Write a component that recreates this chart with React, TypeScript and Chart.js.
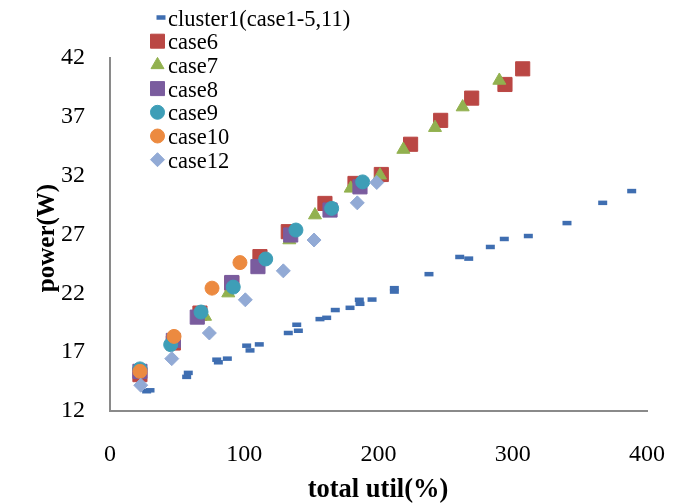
import React, { useEffect, useRef } from 'react';
import { Chart, registerables } from 'chart.js';

Chart.register(...registerables);

const xTicks = [0, 100, 200, 300, 400];
const yTicks = [12, 17, 22, 27, 32, 37, 42];
const xTitle = 'total util(%)';
const yTitle = 'power(W)';
const seriesNames = ['cluster1(case1-5,11)', 'case6', 'case7', 'case8', 'case9', 'case10', 'case12'];
const seriesColors = ['#3F6EB1', '#BA4744', '#92B14F', '#7A5C9E', '#3E9EB7', '#EC8A40', '#92AAD5'];
const seriesStyles = ['line', 'rect', 'triangle', 'rect', 'circle', 'circle', 'rectRot'];

const cluster1X = [27.3, 29.8, 57.1, 58.3, 79.5, 80.7, 87.4, 101.8, 104.3, 111.2, 132.8, 140.3, 139.1, 156.4, 161.4, 167.8, 178.8, 186.2, 185.7, 195.2, 211.8, 211.8, 237.6, 260.5, 267.2, 283.3, 293.7, 311.6, 340.4, 367.0, 388.6];
const cluster1Y = [13.68, 13.76, 14.9, 15.24, 16.36, 16.14, 16.45, 17.55, 17.15, 17.66, 18.63, 18.82, 19.33, 19.81, 19.92, 20.58, 20.77, 21.11, 21.45, 21.47, 22.44, 22.15, 23.63, 25.09, 24.95, 25.94, 26.62, 26.87, 27.97, 29.69, 30.69];

const case6X = [22.3, 47.2, 67.0, 90.7, 111.7, 132.8, 160.1, 182.5, 202.1, 223.9, 246.3, 269.4, 294.2, 307.4];
const case6Y = [15.09, 17.78, 20.32, 22.86, 25.12, 27.24, 29.64, 31.34, 32.1, 34.67, 36.7, 38.59, 39.75, 41.08];

const case7X = [70.8, 88.1, 133.6, 152.7, 179.3, 201.1, 218.5, 242.1, 262.7, 290.0];
const case7Y = [20.03, 22.02, 26.53, 28.65, 30.92, 32.04, 34.22, 36.08, 37.83, 40.09];

const case8X = [22.3, 47.2, 65.0, 90.7, 110.2, 134.6, 163.9, 186.2];
const case8Y = [15.37, 18.0, 19.98, 22.92, 24.27, 26.96, 29.08, 31.05];

const case9X = [22.3, 45.2, 67.8, 91.8, 116.0, 138.5, 165.1, 188.2];
const case9Y = [15.58, 17.64, 20.41, 22.53, 24.92, 27.38, 29.22, 31.47];

const case10X = [22.3, 47.7, 76.0, 96.8];
const case10Y = [15.37, 18.34, 22.44, 24.61];

const case12X = [22.9, 46.0, 74.0, 100.8, 129.1, 152.0, 184.2, 198.7];
const case12Y = [14.19, 16.45, 18.63, 21.45, 23.91, 26.53, 29.69, 31.42];

const allX = [cluster1X, case6X, case7X, case8X, case9X, case10X, case12X];
const allY = [cluster1Y, case6Y, case7Y, case8Y, case9Y, case10Y, case12Y];

const SERIF = '"Liberation Serif", "Times New Roman", serif';

function drawMarker(ctx: CanvasRenderingContext2D, style: string, x: number, y: number, color: string) {
  ctx.save();
  ctx.fillStyle = color;
  ctx.strokeStyle = color;
  ctx.lineWidth = 1;
  ctx.beginPath();
  if (style === 'line') {
    ctx.lineWidth = 4.5;
    ctx.moveTo(x - 4.5, y);
    ctx.lineTo(x + 4.5, y);
    ctx.stroke();
  } else if (style === 'rect') {
    ctx.rect(x - 7, y - 7, 14, 14);
    ctx.fill();
    ctx.stroke();
  } else if (style === 'triangle') {
    const r = 7.5;
    ctx.moveTo(x, y - r);
    ctx.lineTo(x + r * 0.866, y + r * 0.5);
    ctx.lineTo(x - r * 0.866, y + r * 0.5);
    ctx.closePath();
    ctx.fill();
    ctx.stroke();
  } else if (style === 'circle') {
    ctx.arc(x, y, 7, 0, Math.PI * 2);
    ctx.fill();
    ctx.stroke();
  } else if (style === 'rectRot') {
    const r = 7;
    ctx.moveTo(x, y - r);
    ctx.lineTo(x + r, y);
    ctx.lineTo(x, y + r);
    ctx.lineTo(x - r, y);
    ctx.closePath();
    ctx.fill();
    ctx.stroke();
  }
  ctx.restore();
}

const overlayPlugin = {
  id: 'overlay',
  afterDraw(chart: any) {
    const ctx: CanvasRenderingContext2D = chart.ctx;
    ctx.save();
    ctx.fillStyle = '#000';
    ctx.textAlign = 'center';
    ctx.textBaseline = 'alphabetic';
    ctx.font = `bold 26.5px ${SERIF}`;
    ctx.fillText(xTitle, 378, 497);
    ctx.font = `bold 25px ${SERIF}`;
    ctx.save();
    ctx.translate(54, 238);
    ctx.rotate(-Math.PI / 2);
    ctx.fillText(yTitle, 0, 0);
    ctx.restore();
    ctx.font = `22.5px ${SERIF}`;
    ctx.textAlign = 'left';
    seriesNames.forEach((name, i) => {
      const base = 25.5 + 23.7 * i;
      const mx = i === 0 ? 161 : 157.5;
      drawMarker(ctx, seriesStyles[i], mx, base - 8, seriesColors[i]);
      ctx.fillStyle = '#000';
      ctx.fillText(name, 168, base);
    });
    ctx.restore();
  },
};

export default function App() {
  const ref = useRef<HTMLCanvasElement>(null);
  useEffect(() => {
    document.body.style.margin = '0';
    const n = seriesNames.length;
    const datasets = seriesNames.map((name, i) => {
      const isLine = seriesStyles[i] === 'line';
      const radius = seriesStyles[i] === 'rect' ? 10 : seriesStyles[i] === 'triangle' ? 7.5 : isLine ? 4.5 : 7;
      return {
        label: name,
        data: allX[i].map((x, j) => ({ x, y: allY[i][j] })),
        pointStyle: seriesStyles[i],
        pointRadius: radius,
        pointBackgroundColor: seriesColors[i],
        pointBorderColor: seriesColors[i],
        pointBorderWidth: isLine ? 4.5 : 1,
        showLine: false,
        order: n - i,
      };
    });
    const chart = new Chart(ref.current as HTMLCanvasElement, {
      type: 'scatter',
      data: { datasets } as any,
      options: {
        animation: false,
        responsive: false,
        events: [],
        layout: { padding: { top: 58, right: 41, left: 0, bottom: 0 } },
        plugins: { legend: { display: false }, tooltip: { enabled: false } },
        scales: {
          x: {
            type: 'linear',
            min: 0,
            max: 400,
            afterBuildTicks: (s: any) => { s.ticks = xTicks.map((v) => ({ value: v })); },
            afterFit: (s: any) => { s.height = 93; s.paddingLeft = 0; s.paddingRight = 0; },
            grid: { color: 'rgba(0,0,0,0)', drawTicks: false },
            border: { display: true, color: '#8a8a8a', width: 2 },
            ticks: { color: '#000', font: { family: SERIF, size: 24 }, padding: 29, maxRotation: 0 },
          },
          y: {
            type: 'linear',
            min: 12,
            max: 42,
            afterBuildTicks: (s: any) => { s.ticks = yTicks.map((v) => ({ value: v })); },
            afterFit: (s: any) => { s.width = 110; s.paddingTop = 0; s.paddingBottom = 0; },
            grid: { color: 'rgba(0,0,0,0)', drawTicks: false },
            border: { display: true, color: '#8a8a8a', width: 2 },
            ticks: { color: '#000', font: { family: SERIF, size: 24 }, padding: 25 },
          },
        },
      },
      plugins: [overlayPlugin],
    } as any);
    return () => chart.destroy();
  }, []);
  return (
    <div style={{ width: 688, height: 504, background: '#fff' }}>
      <canvas ref={ref} width={688} height={504} style={{ display: 'block' }} />
    </div>
  );
}
